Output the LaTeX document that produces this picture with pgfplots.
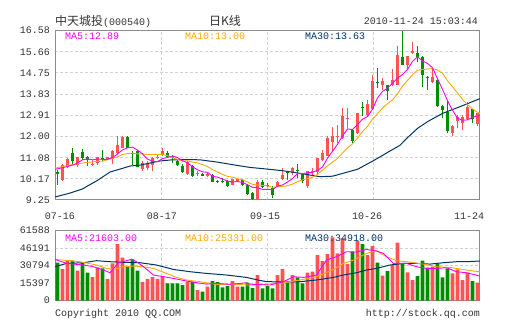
\documentclass[border=0pt]{standalone}
\usepackage{pgfplots}
\pgfplotsset{compat=1.18}
\usepackage{pgfplotstable}
\usepackage{fontspec}
\setmonofont{Liberation Mono}
\newfontfamily\cjk{Noto Sans CJK SC}
\newcommand{\mono}{\ttfamily\fontsize{10bp}{12bp}\selectfont}
\definecolor{cred}{HTML}{FF5252}
\definecolor{cgreen}{HTML}{008E00}
\definecolor{cmag}{HTML}{FF00FF}
\definecolor{corange}{HTML}{FFA800}
\definecolor{cnavy}{HTML}{003366}
\definecolor{gridc}{HTML}{D2D2D2}
\definecolor{framec}{HTML}{8C8C8C}
\definecolor{labc}{HTML}{333333}

\pgfplotstableread{
x o h l c v
1 10.12 10.82 10.08 10.77 27800
2 10.69 11.08 10.65 11.03 35200
4 10.77 11.13 10.68 11.10 26400
7 10.76 10.98 10.72 10.83 20800
8 10.85 11.13 10.78 11.10 29300
10 11.02 11.13 10.98 11.10 19300
11 11.02 11.40 10.79 11.36 32800
12 11.28 12.00 11.25 11.62 49800
13 11.52 12.00 11.50 11.98 37800
17 10.60 10.95 10.50 10.85 16400
18 10.65 10.92 10.55 10.80 19300
19 10.75 11.10 10.50 11.06 20800
20 11.08 11.18 11.02 11.13 19300
21 11.18 11.48 11.15 11.36 21700
26 10.38 10.92 10.35 10.88 16700
28 10.40 10.50 10.28 10.43 9400
30 10.30 10.42 10.25 10.36 12300
35 9.90 10.18 9.88 10.14 17300
36 10.08 10.20 10.04 10.15 12300
40 9.26 10.10 9.25 10.05 22600
44 9.85 10.08 9.82 10.04 22600
45 10.16 10.62 10.12 10.33 27800
47 10.40 10.69 10.35 10.62 22600
50 9.85 10.51 9.75 10.51 24600
51 10.45 10.62 10.30 10.51 25500
52 10.48 11.06 10.35 11.06 40100
53 10.97 11.43 10.92 11.28 34900
54 11.14 12.00 11.14 11.93 41000
55 11.78 12.43 11.33 12.00 55700
56 11.98 12.48 11.73 12.03 41600
57 11.93 13.23 11.90 12.87 54800
58 12.75 13.23 12.37 12.80 32200
60 12.15 13.03 12.10 13.02 52400
62 12.95 13.60 12.90 13.41 40100
63 13.20 14.68 13.18 14.39 48100
65 14.25 14.54 14.03 14.39 22000
67 14.25 14.90 14.20 14.46 31400
68 14.25 15.90 14.22 15.54 51000
70 15.11 15.47 14.89 15.47 24900
71 15.60 16.07 15.55 15.72 18200
75 14.34 14.95 14.30 14.56 29900
79 12.15 12.48 12.00 12.46 24000
80 12.66 12.95 12.37 12.83 27500
81 12.58 12.95 12.30 12.83 18200
82 12.74 13.50 12.70 13.27 24600
84 12.52 13.05 12.45 13.00 15800
}\uptab

\pgfplotstableread{
x o h l c v
0 10.48 10.55 9.90 10.38 33400
3 11.28 11.50 10.82 10.95 35200
5 11.32 11.45 10.99 11.08 33400
6 11.12 11.15 10.72 10.98 24600
9 11.07 11.40 10.95 11.04 28400
14 11.98 12.00 11.48 11.50 29900
15 11.30 11.35 10.75 11.25 36300
16 11.38 11.42 10.66 10.69 26400
22 11.30 11.36 11.05 11.12 15200
23 11.15 11.20 10.85 11.08 15200
24 10.95 10.98 10.72 10.76 15200
25 10.72 10.83 10.42 10.45 13800
27 10.72 10.75 10.25 10.28 16700
29 10.37 10.40 10.28 10.30 7900
31 10.34 10.38 10.02 10.05 17300
32 10.08 10.12 9.98 10.05 16400
33 10.09 10.20 10.00 10.04 11700
34 10.09 10.12 9.82 9.86 12900
37 10.12 10.15 9.84 9.88 12300
38 9.92 9.95 9.48 9.51 15800
39 9.56 9.58 9.25 9.30 11000
41 10.05 10.12 9.75 9.80 10800
42 9.92 10.00 9.80 9.88 12900
43 9.76 9.85 9.33 9.47 10800
46 10.46 10.52 10.10 10.42 15800
48 10.56 10.79 10.20 10.53 20500
49 10.38 10.42 10.00 10.06 15200
59 12.30 12.32 11.72 11.82 43100
61 13.28 13.49 12.87 13.24 49800
64 14.34 14.97 14.10 14.31 33400
66 14.21 14.24 13.59 13.95 26100
69 15.43 16.58 15.08 15.08 32800
72 15.62 15.93 15.24 15.43 21700
73 15.42 15.50 14.16 14.67 35200
74 14.59 14.60 14.01 14.52 29000
76 14.46 14.48 13.28 13.30 32200
77 13.33 13.35 12.80 13.15 20500
78 13.06 13.55 12.14 12.22 28400
83 13.19 13.19 12.60 12.74 17300
}\dntab

\pgfplotsset{
  wick/.style={draw=none, mark=none, forget plot, error bars/.cd, y dir=plus, y explicit, error mark=none, error bar style={draw=#1, line width=1bp, solid}},
  body/.style={draw=none, mark=none, forget plot, error bars/.cd, y dir=plus, y explicit, error mark=none, error bar style={draw=#1, line width=3.7bp, solid}},
  panel/.style={scale only axis, anchor=south west, width=425bp, xmin=-0.5, xmax=84.5,
    xtick={20.75,42,63.25}, xticklabels={}, major tick length=0pt,
    scaled y ticks=false, scaled x ticks=false,
    grid=major, grid style={gridc, line width=1bp, dash pattern=on 3bp off 2bp},
    axis line style={framec, line width=1bp},
    yticklabel style={font=\mono, text=labc, xshift=-1.5bp}},
}

\begin{document}
\begin{tikzpicture}
\path[use as bounding box] (0,0) rectangle (505bp,330bp);

\begin{axis}[panel, at={(55bp,130bp)}, height=169.3bp, ymin=9.25, ymax=16.58,
  ytick={9.25,10.17,11.08,12.00,12.91,13.83,14.75,15.66,16.58},
  yticklabels={9.25,10.17,11.08,12.00,12.91,13.83,14.75,15.66,16.58}]
\addplot[wick=cred] table[x=x, y=l, y error expr=\thisrow{h}-\thisrow{l}] {\uptab};
\addplot[body=cred] table[x=x, y=o, y error expr=\thisrow{c}-\thisrow{o}] {\uptab};
\addplot[wick=cgreen] table[x=x, y=l, y error expr=\thisrow{h}-\thisrow{l}] {\dntab};
\addplot[body=cgreen] table[x=x, y=c, y error expr=\thisrow{o}-\thisrow{c}] {\dntab};
% MA30
\addplot[cnavy, line width=1bp, mark=none] coordinates {
(-0.5,9.38)(2.5,9.55)(5,9.73)(8,10.1)(10.5,10.46)(13,10.62)(14.5,10.72)(16.5,10.76)(18.5,10.85)(20.5,10.94)(23,10.99)(26,11.0)(28.5,10.99)(32,10.89)(35,10.78)(38.5,10.66)(40.5,10.62)(45,10.52)(48,10.42)(50,10.35)(52.5,10.26)(55,10.28)(57,10.40)(60,10.58)(63,10.93)(66.5,11.37)(68.5,11.62)(70,11.95)(72,12.35)(74,12.64)(77,13.0)(80.5,13.29)(84.5,13.64)};
% MA10
\addplot[corange, line width=0.9bp, mark=none] coordinates {
(-0.5,10.63)(0,10.65)(1,10.70)(2,10.74)(3,10.78)(4,10.82)(5,10.85)(6,10.88)(7,10.90)(8,10.92)(9,10.93)(10,11.00)(11,11.06)(12,11.12)(13,11.22)(14,11.26)(15,11.28)(16,11.25)(17,11.25)(18,11.22)(19,11.22)(20,11.22)(21,11.22)(22,11.17)(23,11.08)(24,11.01)(25,10.93)(26,10.95)(27,10.89)(28,10.86)(29,10.78)(30,10.70)(31,10.57)(32,10.46)(33,10.36)(34,10.27)(35,10.24)(36,10.17)(37,10.13)(38,10.03)(39,9.93)(40,9.90)(41,9.88)(42,9.86)(43,9.80)(44,9.82)(45,9.84)(46,9.87)(47,9.94)(48,10.04)(49,10.12)(50,10.17)(51,10.24)(52,10.36)(53,10.54)(54,10.73)(55,10.89)(56,11.05)(57,11.28)(58,11.51)(59,11.68)(60,11.93)(61,12.21)(62,12.44)(63,12.75)(64,12.99)(65,13.23)(66,13.42)(67,13.58)(68,13.85)(69,14.18)(70,14.42)(71,14.67)(72,14.87)(73,14.90)(74,14.92)(75,14.94)(76,14.88)(77,14.74)(78,14.41)(79,14.15)(80,13.89)(81,13.60)(82,13.38)(83,13.19)(84,13.04)(84.5,13.00)};
% MA5
\addplot[cmag, line width=0.9bp, mark=none] coordinates {
(-0.5,10.58)(0,10.60)(1,10.65)(2,10.70)(3,10.76)(4,10.85)(5,10.99)(6,11.03)(7,10.99)(8,11.02)(9,11.01)(10,11.01)(11,11.09)(12,11.24)(13,11.42)(14,11.51)(15,11.54)(16,11.41)(17,11.25)(18,11.02)(19,10.93)(20,10.91)(21,11.04)(22,11.09)(23,11.15)(24,11.09)(25,10.95)(26,10.86)(27,10.69)(28,10.56)(29,10.47)(30,10.45)(31,10.28)(32,10.24)(33,10.16)(34,10.07)(35,10.03)(36,10.05)(37,10.01)(38,9.91)(39,9.80)(40,9.78)(41,9.71)(42,9.71)(43,9.70)(44,9.85)(45,9.90)(46,10.03)(47,10.18)(48,10.39)(49,10.39)(50,10.43)(51,10.45)(52,10.53)(53,10.68)(54,11.06)(55,11.36)(56,11.66)(57,12.02)(58,12.33)(59,12.30)(60,12.51)(61,12.75)(62,12.86)(63,13.18)(64,13.67)(65,13.95)(66,14.09)(67,14.30)(68,14.53)(69,14.68)(70,14.90)(71,15.25)(72,15.45)(73,15.27)(74,15.16)(75,14.98)(76,14.50)(77,14.04)(78,13.55)(79,13.14)(80,12.79)(81,12.70)(82,12.72)(83,12.83)(84,12.89)(84.5,12.91)};
\end{axis}

\begin{axis}[panel, at={(55bp,29.3bp)}, height=70bp, ymin=0, ymax=61588,
  ytick={0,15397,30794,46191,61588},
  yticklabels={0,15397,30794,46191,61588}]
\addplot[ybar, bar width=3.8bp, bar shift=0pt, fill=cred, draw=none, forget plot] table[x=x, y=v] {\uptab};
\addplot[ybar, bar width=3.8bp, bar shift=0pt, fill=cgreen, draw=none, forget plot] table[x=x, y=v] {\dntab};
\addplot[cnavy, line width=1bp, mark=none] coordinates {
(-0.5,29900)(1.8,32800)(5.2,33400)(7.8,35200)(10.5,34300)(13.8,33700)(16.5,33400)(19.8,31400)(23.2,27500)(26.5,25500)(29.8,24000)(33.8,22600)(37.8,20500)(40.5,17800)(41.8,16800)(45.2,16400)(48.5,16700)(51.8,18200)(55.2,20500)(57.2,22600)(59.8,24600)(61.8,27000)(63.8,28400)(66.5,31400)(69.2,32800)(71.8,32800)(74.5,32200)(77.2,33400)(79.8,34300)(81.8,34300)(84.5,34918)};
\addplot[corange, line width=0.9bp, mark=none] coordinates {
(-0.5,36300)(2.5,35200)(4.5,34300)(7.8,31400)(9.8,28400)(11.2,27500)(13.2,29900)(15.2,30500)(17.2,29900)(19.2,28400)(21.8,24000)(23.8,20500)(25.8,18200)(28.5,16700)(31.8,14400)(35.2,14400)(38.5,13800)(41.8,14400)(45.2,15800)(48.5,18200)(51.8,21100)(55.2,27500)(57.2,32800)(59.2,35700)(61.8,41600)(63.8,44000)(65.8,38700)(67.8,35200)(69.8,34300)(73.2,32200)(75.8,29900)(78.5,29300)(81.8,27000)(84.5,25331)};
\addplot[cmag, line width=0.9bp, mark=none] coordinates {
(-0.5,36300)(1.8,32800)(5.2,31400)(7.2,29900)(9.2,27000)(10.5,24600)(12.2,33400)(14.2,35700)(14.8,36600)(15.8,34300)(17.2,29900)(19.2,22600)(21.2,21100)(23.2,19600)(25.8,17300)(27.8,15800)(29.8,14600)(31.8,15200)(34.5,14400)(36.5,15200)(37.8,15800)(38.5,14500)(42.5,13800)(45.2,16700)(47.2,21100)(49.2,20500)(51.8,22600)(53.8,35700)(55.8,38700)(57.8,43100)(59.8,42800)(61.8,45100)(63.8,43700)(65.2,41600)(67.2,32800)(69.8,32800)(71.8,29900)(73.8,28400)(75.8,28400)(77.8,29000)(79.8,25500)(81.8,24600)(84.5,21603)};
\end{axis}

% header
\node[anchor=base west, inner sep=0, text=labc] at (55bp,304.5bp) {{\cjk\fontsize{12bp}{14bp}\selectfont 中天城投}{\mono(000540)}};
\node[anchor=base, inner sep=0, text=labc] at (225bp,304.5bp) {\cjk\fontsize{12bp}{14bp}\selectfont 日K线};
\node[anchor=base east, inner sep=0, text=labc] at (478bp,305bp) {\mono 2010-11-24 15:03:44};
% price MA labels
\node[anchor=base west, inner sep=0, text=cmag] at (65bp,290bp) {\mono MA5:12.89};
\node[anchor=base west, inner sep=0, text=corange] at (185bp,290bp) {\mono MA10:13.00};
\node[anchor=base west, inner sep=0, text=cnavy] at (305bp,290bp) {\mono MA30:13.63};
% volume MA labels
\node[anchor=base west, inner sep=0, text=cmag] at (65bp,88bp) {\mono MA5:21603.00};
\node[anchor=base west, inner sep=0, text=corange] at (185bp,88bp) {\mono MA10:25331.00};
\node[anchor=base west, inner sep=0, text=cnavy] at (305bp,88bp) {\mono MA30:34918.00};
% date labels
\node[anchor=base, inner sep=0, text=labc] at (60bp,110bp) {\mono 07-16};
\node[anchor=base, inner sep=0, text=labc] at (162bp,110bp) {\mono 08-17};
\node[anchor=base, inner sep=0, text=labc] at (265bp,110bp) {\mono 09-15};
\node[anchor=base, inner sep=0, text=labc] at (367bp,110bp) {\mono 10-26};
\node[anchor=base, inner sep=0, text=labc] at (469bp,110bp) {\mono 11-24};
% footer
\node[anchor=base west, inner sep=0, text=labc] at (55bp,14bp) {\mono Copyright 2010 QQ.COM};
\node[anchor=base east, inner sep=0, text=labc] at (480bp,14bp) {\mono http://stock.qq.com};
\end{tikzpicture}
\end{document}
